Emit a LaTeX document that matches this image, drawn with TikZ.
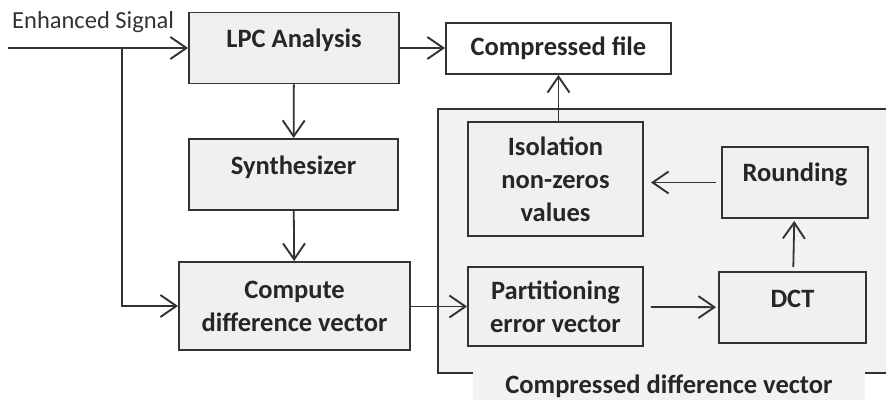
\documentclass[tikz,border=0pt]{standalone}
\usepackage{fontspec}
\setmainfont{Carlito}
\usepackage{xcolor}
\definecolor{boxgray}{RGB}{240,240,240}
\definecolor{panelgray}{RGB}{242,242,242}
\usepackage{tikz}
\usetikzlibrary{positioning}
\usetikzlibrary{arrows.meta}

\begin{document}
\begin{tikzpicture}[x=1pt,y=-1pt,
  block/.style={draw=black!80,line width=1.9pt,fill=boxgray,align=center,inner sep=2pt,font=\fontsize{26.5}{33}\selectfont\bfseries,text=black!85},
  onerow/.style={inner ysep=0pt,text height=35pt,text depth=36pt},
  flow/.style={draw=black!80,line width=1.8pt,-{Straight Barb[length=16pt,width=22pt,line width=1.9pt]}}]
\useasboundingbox (0,0) rectangle (886,401);
% panel round the compression steps
\draw[draw=black!80,line width=1.9pt,fill=panelgray] (438,109) -- (890,109) -- (890,373) -- (438,373) -- cycle;
\node[fill=panelgray,inner sep=3pt,minimum width=392pt,font=\fontsize{26.5}{30}\selectfont\bfseries,text=black!85] (cdv) at (669,386) {Compressed difference vector};
% blocks
\node[block,onerow,minimum width=210pt] (lpc) at (294,48) {LPC Analysis};
\node[block,fill=white,minimum width=225pt,minimum height=51pt] (file) at (558.5,48.5) {Compressed file};
\node[block,onerow,minimum width=209pt] (synth) at (293.5,174.5) {Synthesizer};
\node[block,minimum width=231pt,minimum height=88pt] (diff) at (294.5,306) {Compute\\difference vector};
\node[block,minimum width=175pt,minimum height=114pt] (iso) at (555.5,179) {Isolation\\non-zeros\\values};
\node[block,onerow,minimum width=146pt] (round) at (795,182.5) {Rounding};
\node[block,minimum width=175pt,minimum height=79pt] (part) at (555.5,306.5) {Partitioning\\error vector};
\node[block,onerow,minimum width=147pt] (dct) at (792.5,307.5) {DCT};
% input
\coordinate (in) at (8,48);
\coordinate (split) at (122,48);
\node[anchor=south west,inner sep=0pt,font=\fontsize{24.5}{28}\selectfont,text=black!80] (sig) at (12,33) {Enhanced Signal};
% connectors
\draw[flow] (in) -- (lpc.west);
\draw[flow] (split) |- (diff.west);
\draw[flow] (lpc.east) -- (file.west |- lpc.east);
\draw[flow] (lpc) -- (synth);
\draw[flow] (synth) -- (diff);
\draw[flow] (diff.east |- part.west) -- (part.west);
\draw[flow,shorten <=7pt,shorten >=2pt] (part) -- (dct);
\draw[flow,shorten <=4pt,shorten >=2pt] (dct) -- (round);
\draw[flow,shorten <=5pt,shorten >=7pt] (round) -- (iso.east |- round);
\draw[flow] (iso.north -| file) -- (file.south);
\end{tikzpicture}
\end{document}
